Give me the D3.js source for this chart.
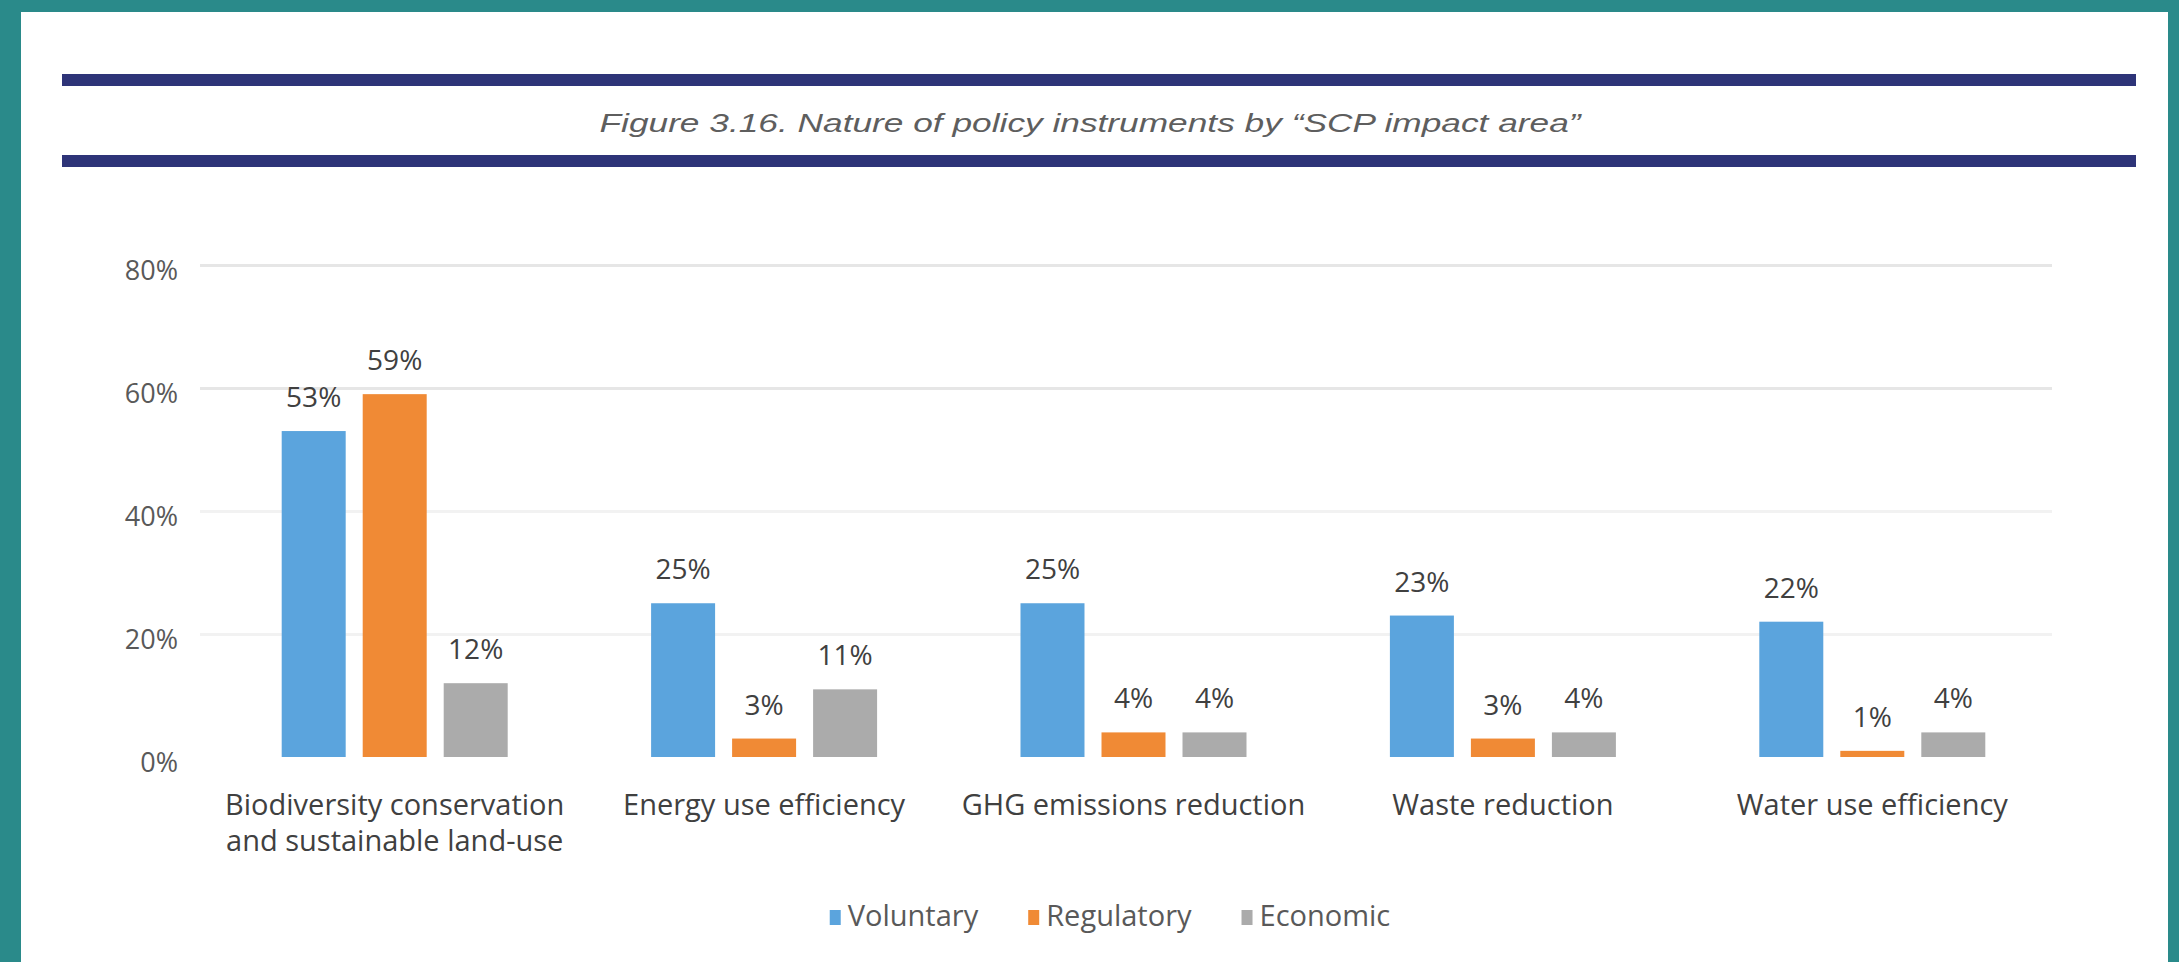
<!DOCTYPE html>
<html>
<head>
<meta charset="utf-8">
<script src="https://cdn.jsdelivr.net/npm/d3@7"></script>
<style>
  html, body { margin: 0; padding: 0; background: #2a8a8a; }
  svg { display: block; }
</style>
</head>
<body>
<svg id="chart" width="2179" height="962"></svg>
<script>
// ---- data ----
const title = "Figure 3.16. Nature of policy instruments by \u201CSCP impact area\u201D";
const categories = [
  "Biodiversity conservation\nand sustainable land-use",
  "Energy use efficiency",
  "GHG emissions reduction",
  "Waste reduction",
  "Water use efficiency"
];
const seriesNames = ["Voluntary", "Regulatory", "Economic"];
const voluntary  = [53, 25, 25, 23, 22];
const regulatory = [59, 3, 4, 3, 1];
const economic   = [12, 11, 4, 4, 4];
const yTicks = [0, 20, 40, 60, 80];
const yTickLabels = ["0%", "20%", "40%", "60%", "80%"];

// ---- build table ----
const seriesValues = [voluntary, regulatory, economic];
const colors = d3.scaleOrdinal().domain(seriesNames).range(["#5ba4dd", "#f08a35", "#ababab"]);
const table = categories.map((c, i) => ({
  category: c,
  values: seriesNames.map((s, j) => ({ series: s, value: seriesValues[j][i] }))
}));

const svg = d3.select("#chart");
const W = 2179, H = 962;

// frame
svg.append("rect").attr("x", 0).attr("y", 0).attr("width", W).attr("height", H).attr("fill", "#2a8a8a");
svg.append("rect").attr("x", 21).attr("y", 12).attr("width", 2147).attr("height", H - 12).attr("fill", "#ffffff");

// title rules
[74, 155].forEach(yy => {
  svg.append("rect").attr("x", 62).attr("y", yy).attr("width", 2074).attr("height", 12).attr("fill", "#2e3478");
});
svg.append("text")
  .attr("x", 1090).attr("y", 132)
  .attr("text-anchor", "middle")
  .attr("font-family", "'Liberation Sans', Arial, sans-serif")
  .attr("font-style", "italic")
  .attr("font-size", 26)
  .attr("fill", "#5e5e5e")
  .attr("textLength", 981)
  .attr("lengthAdjust", "spacingAndGlyphs")
  .text(title);

// scales
const x0 = d3.scaleBand().domain(categories).range([210, 2057]).paddingInner(0).paddingOuter(0);
const half = x0.bandwidth() / 2;
const x1 = d3.scaleBand().domain(seriesNames).range([half - 113, half + 113]).paddingInner(0.21).paddingOuter(0);
const y = d3.scaleLinear().domain([0, 80]).range([757, 265]);

const font = "'Open Sans', 'Noto Sans', sans-serif";

// gridlines (upper lines more visible, lower ones faint, as in the source)
const grid = svg.append("g").attr("transform", "translate(200,0)")
  .call(d3.axisLeft(y).tickValues(yTicks.filter(t => t > 0)).tickSize(-1852).tickFormat(""));
grid.select(".domain").remove();
grid.selectAll("line")
  .attr("stroke", d => d >= 60 ? "#e6e6e6" : "#f2f2f2")
  .attr("stroke-width", 3);

// y labels
const yAxis = svg.append("g").attr("transform", "translate(185,0)")
  .call(d3.axisLeft(y).tickValues(yTicks).tickSize(0).tickPadding(7)
    .tickFormat((d, i) => yTickLabels[i]));
yAxis.select(".domain").remove();
yAxis.selectAll("text")
  .attr("font-family", font).attr("font-size", 27).attr("fill", "#595959")
  .attr("dy", "0.54em");

// bars
const groups = svg.append("g").selectAll("g").data(table).join("g")
  .attr("transform", d => `translate(${x0(d.category)},0)`);
groups.selectAll("rect").data(d => d.values).join("rect")
  .attr("x", d => x1(d.series))
  .attr("width", x1.bandwidth())
  .attr("y", d => y(d.value))
  .attr("height", d => y(0) - y(d.value))
  .attr("fill", d => colors(d.series));
groups.selectAll("text.val").data(d => d.values).join("text")
  .attr("class", "val")
  .attr("x", d => x1(d.series) + x1.bandwidth() / 2)
  .attr("y", d => y(d.value) - 24)
  .attr("text-anchor", "middle")
  .attr("font-family", font).attr("font-size", 28).attr("fill", "#404040")
  .text(d => d.value + "%");

// category axis
const xAxis = svg.append("g").attr("transform", `translate(0,${y(0)})`)
  .call(d3.axisBottom(x0).tickSize(0));
xAxis.select(".domain").remove();
xAxis.selectAll("text").each(function (d) {
  const t = d3.select(this);
  t.text(null).attr("y", 0).attr("dy", null)
    .attr("font-family", font).attr("font-size", 29).attr("fill", "#404040");
  d.split("\n").forEach((line, i) => {
    t.append("tspan").attr("x", 0).attr("y", 58 + i * 36).text(line);
  });
});

// legend
const legend = svg.append("g");
const items = legend.selectAll("g").data(seriesNames).join("g");
items.append("rect").attr("width", 11).attr("height", 15).attr("y", -16).attr("fill", d => colors(d));
items.append("text").attr("x", 18).attr("y", 0)
  .attr("font-family", font).attr("font-size", 29).attr("fill", "#595959").text(d => d);
const widths = [];
items.each(function () {
  const w = 18 + d3.select(this).select("text").node().getComputedTextLength();
  widths.push(w);
});
const spacing = 50;
const total = d3.sum(widths) + spacing * (widths.length - 1);
let start = 1110 - total / 2;
items.attr("transform", (d, i) => {
  const tx = start;
  start += widths[i] + spacing;
  return `translate(${tx},926)`;
});
</script>
</body>
</html>
